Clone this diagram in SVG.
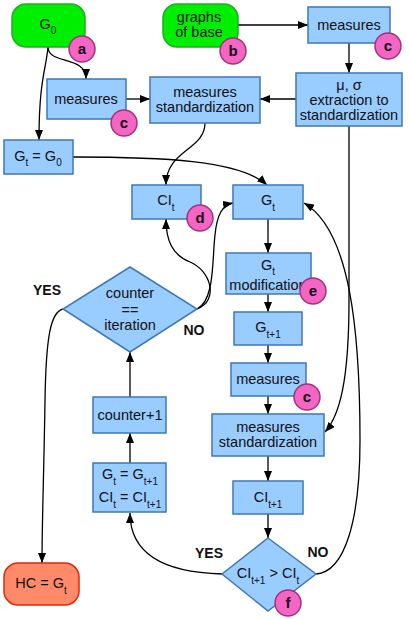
<svg xmlns="http://www.w3.org/2000/svg" width="409" height="619" viewBox="0 0 409 619">
<defs>
<style>
.box{fill:#99ccff;stroke:#3f78b5;stroke-width:1.5}
.start{fill:#00ee00;stroke:#1fae1f;stroke-width:1.5}
.end{fill:#ff8a6a;stroke:#e0280a;stroke-width:1.5}
.tag{fill:#f465c4;stroke:#a0347f;stroke-width:1.5}
.t{font-family:"Liberation Sans",Arial,sans-serif;font-size:14.5px;fill:#111;text-anchor:middle}
.tg{font-family:"Liberation Sans",Arial,sans-serif;font-size:15px;font-weight:bold;fill:#111;text-anchor:middle}
.lb{font-family:"Liberation Sans",Arial,sans-serif;font-size:14px;font-weight:bold;fill:#111;text-anchor:middle}
.c{fill:none;stroke:#000;stroke-width:1.3;marker-end:url(#ah)}
</style>
<marker id="ah" markerUnits="userSpaceOnUse" viewBox="0 0 10 8" refX="10" refY="4" markerWidth="10" markerHeight="8" orient="auto">
<path d="M0,0 L10,4 L0,8 z" fill="#000"/>
</marker>
</defs>

<g id="connectors">
<path class="c" d="M48,47 C46,70 39,80 39,140"/>
<path class="c" d="M48,47 C48,65 86,55 86,79"/>
<path class="c" d="M126,99 L150,99"/>
<path class="c" d="M238,25 L308,25"/>
<path class="c" d="M349,43 L349,73"/>
<path class="c" d="M296,99 L260,99"/>
<path class="c" d="M205,123 C205,150 166,150 166,185"/>
<path class="c" d="M73,157 C160,157 240,160 267,185"/>
<path class="c" d="M349,126 L349,300 C349,380 340,415 325,432"/>
<path class="c" d="M268,219 L268,253"/>
<path class="c" d="M268,294 L268,312"/>
<path class="c" d="M268,345 L268,363"/>
<path class="c" d="M268,396 L268,414"/>
<path class="c" d="M268,456 L268,481"/>
<path class="c" d="M268,514 L268,538"/>
<path class="c" d="M316,574 C345,572 360,520 360,440 C360,330 350,230 304,203"/>
<path class="c" d="M222,574 C150,572 130,545 130,513"/>
<path class="c" d="M130,463 L130,433"/>
<path class="c" d="M130,397 L130,352"/>
<path class="c" d="M63,309 C50,312 46,340 45,400 C44,470 42,520 42,563"/>
<path class="c" d="M197,309 C220,300 210,270 190,262 C172,255 166,240 166,219"/>
<path class="c" d="M197,309 C215,300 212,260 215,235 C217,215 222,205 233,203"/>
</g>

<g id="n_g0">
<rect class="start" x="12" y="4" width="73" height="43" rx="14"/>
<text class="t" x="48" y="29" font-size="15">G<tspan font-size="10" dy="5">0</tspan></text>
<circle class="tag" cx="82" cy="49" r="13"/><text class="tg" x="82" y="54">a</text>
</g>
<g id="n_base">
<rect class="start" x="163" y="4" width="75" height="43" rx="14"/>
<text class="t" x="199" y="22">graphs</text>
<text class="t" x="199" y="37">of base</text>
<circle class="tag" cx="233" cy="51" r="13"/><text class="tg" x="233" y="56">b</text>
</g>
<g id="n_meas_top">
<rect class="box" x="308" y="7" width="82" height="36"/>
<text class="t" x="349" y="30">measures</text>
<circle class="tag" cx="388" cy="46" r="13"/><text class="tg" x="388" y="51">c</text>
</g>
<g id="n_musigma">
<rect class="box" x="296" y="73" width="106" height="53"/>
<text class="t" x="349" y="90">μ, σ</text>
<text class="t" x="349" y="105">extraction to</text>
<text class="t" x="349" y="120">standardization</text>
</g>
<g id="n_std_top">
<rect class="box" x="150" y="77" width="110" height="46"/>
<text class="t" x="205" y="97">measures</text>
<text class="t" x="205" y="112">standardization</text>
</g>
<g id="n_meas_left">
<rect class="box" x="47" y="79" width="79" height="40"/>
<text class="t" x="86" y="104">measures</text>
<circle class="tag" cx="124" cy="123" r="13"/><text class="tg" x="124" y="128">c</text>
</g>
<g id="n_gt_g0">
<rect class="box" x="4" y="140" width="69" height="34"/>
<text class="t" x="38" y="161">G<tspan font-size="10" dy="5">t</tspan><tspan dy="-5"> = G</tspan><tspan font-size="10" dy="5">0</tspan></text>
</g>
<g id="n_cit">
<rect class="box" x="132" y="185" width="69" height="34"/>
<text class="t" x="166" y="205">CI<tspan font-size="10" dy="6">t</tspan></text>
<circle class="tag" cx="200" cy="218" r="13"/><text class="tg" x="200" y="223">d</text>
</g>
<g id="n_gt">
<rect class="box" x="233" y="185" width="70" height="34"/>
<text class="t" x="268" y="205">G<tspan font-size="10" dy="6">t</tspan></text>
</g>
<g id="n_counter_dec">
<polygon class="box" points="130,267 197,309 130,352 63,309"/>
<text class="t" x="130" y="298">counter</text>
<text class="t" x="130" y="315">==</text>
<text class="t" x="130" y="330">iteration</text>
</g>
<g id="n_gtmod">
<rect class="box" x="226" y="253" width="85" height="41"/>
<text class="t" x="268" y="270">G<tspan font-size="10" dy="5">t</tspan></text>
<text class="t" x="268" y="290">modification</text>
<circle class="tag" cx="313" cy="291" r="13"/><text class="tg" x="313" y="296">e</text>
</g>
<g id="n_gt1">
<rect class="box" x="234" y="312" width="68" height="33"/>
<text class="t" x="268" y="332">G<tspan font-size="10" dy="6">t+1</tspan></text>
</g>
<g id="n_meas_mid">
<rect class="box" x="231" y="363" width="75" height="33"/>
<text class="t" x="268" y="384">measures</text>
<circle class="tag" cx="307" cy="397" r="13"/><text class="tg" x="307" y="402">c</text>
</g>
<g id="n_std_bot">
<rect class="box" x="212" y="414" width="112" height="42"/>
<text class="t" x="268" y="432">measures</text>
<text class="t" x="268" y="447">standardization</text>
</g>
<g id="n_cit1">
<rect class="box" x="233" y="481" width="70" height="33"/>
<text class="t" x="268" y="502">CI<tspan font-size="10" dy="6">t+1</tspan></text>
</g>
<g id="n_cmp_dec">
<polygon class="box" points="268,538 316,574 268,611 222,574"/>
<text class="t" x="268" y="578">CI<tspan font-size="10" dy="6">t+1</tspan><tspan dy="-6"> &gt; CI</tspan><tspan font-size="10" dy="6">t</tspan></text>
<circle class="tag" cx="288" cy="603" r="13"/><text class="tg" x="288" y="608">f</text>
</g>
<g id="n_assign">
<rect class="box" x="93" y="463" width="73" height="49"/>
<text class="t" x="130" y="479">G<tspan font-size="10" dy="6">t</tspan><tspan dy="-6"> = G</tspan><tspan font-size="10" dy="6">t+1</tspan></text>
<text class="t" x="130" y="502">CI<tspan font-size="10" dy="6">t</tspan><tspan dy="-6"> = CI</tspan><tspan font-size="10" dy="6">t+1</tspan></text>
</g>
<g id="n_counter1">
<rect class="box" x="93" y="397" width="73" height="36"/>
<text class="t" x="130" y="420">counter+1</text>
</g>
<g id="n_hc">
<rect class="end" x="4" y="563" width="75" height="42" rx="14"/>
<text class="t" x="41" y="588">HC = G<tspan font-size="10" dy="6">t</tspan></text>
</g>
<g id="labels">
<text class="lb" x="47" y="295">YES</text>
<text class="lb" x="194" y="335">NO</text>
<text class="lb" x="209" y="558">YES</text>
<text class="lb" x="318" y="557">NO</text>
</g>
</svg>
